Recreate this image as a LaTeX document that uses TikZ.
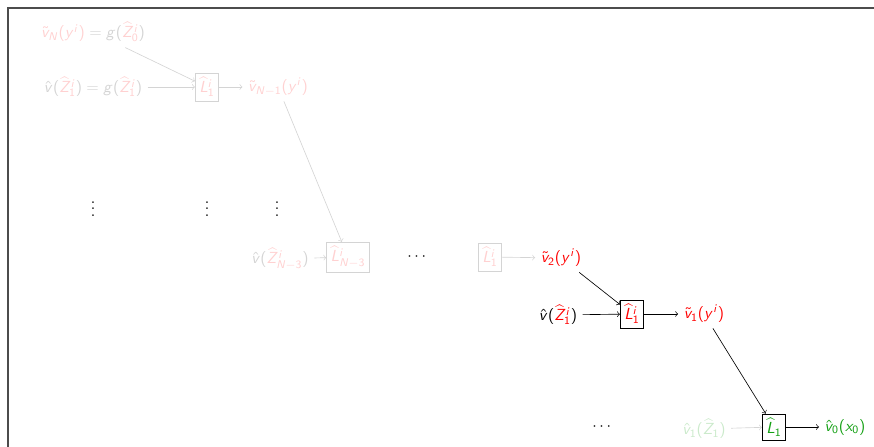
\documentclass[tikz,border=0pt]{standalone}
\usepackage{amsmath}
\usepackage{tikz}
\usetikzlibrary{positioning}

% sans serif math, as on the slide
\DeclareSymbolFont{operators}{OT1}{cmss}{m}{n}
\DeclareSymbolFont{sfletters}{OT1}{cmss}{m}{sl}
\DeclareMathSymbol{g}{\mathalpha}{sfletters}{`g}
\DeclareMathSymbol{i}{\mathalpha}{sfletters}{`i}
\DeclareMathSymbol{v}{\mathalpha}{sfletters}{`v}
\DeclareMathSymbol{x}{\mathalpha}{sfletters}{`x}
\DeclareMathSymbol{y}{\mathalpha}{sfletters}{`y}
\DeclareMathSymbol{L}{\mathalpha}{sfletters}{`L}
\DeclareMathSymbol{N}{\mathalpha}{sfletters}{`N}
\DeclareMathSymbol{Z}{\mathalpha}{sfletters}{`Z}

\colorlet{pale}{black!17}
\colorlet{palered}{red!18}
\definecolor{dkgreen}{RGB}{20,160,20}
\colorlet{palegreen}{dkgreen!22}
\newcommand{\pr}[1]{\textcolor{palered}{#1}}
\newcommand{\rd}[1]{\textcolor{red}{#1}}

\begin{document}
\begin{tikzpicture}[x=0.625pt, y=-0.625pt,
    lbox/.style={draw, inner sep=2.5pt},
    fade/.style={pale, text=palered},
    dim/.style={->, pale},
    flow/.style={->}]
    \useasboundingbox (0,0) rectangle (874,447);
    \draw[black!70, line width=0.8pt] (8,447) -- (8,8) -- (874,8);
    % faded top rows
    \node[pale] (vN) at (93,32) {$\pr{\tilde{v}_N(y^i)} = g(\pr{\widehat{Z}^i_0})$};
    \node[pale] (vh1) at (93,87) {$\hat{v}(\pr{\widehat{Z}^i_1}) = g(\pr{\widehat{Z}^i_1})$};
    \node[lbox,fade] (b1) at (207,87) {$\widehat{L}^i_1$};
    \node[palered] (vN1) at (278,87) {$\tilde{v}_{N-1}(y^i)$};
    \node at (93,204) {$\vdots$};
    \node at (207,204) {$\vdots$};
    \node at (277,204) {$\vdots$};
    \node[pale] (vhN3) at (280,259) {$\hat{v}(\pr{\widehat{Z}^i_{N-3}})$};
    \node[lbox,fade] (bN3) at (348,257) {$\widehat{L}^i_{N-3}$};
    \node (dots1) at (418,257) {$\cdots$};
    \node[lbox,fade] (bk) at (490,257) {$\widehat{L}^i_1$};
    \node[red] (v2) at (561,258) {$\tilde{v}_2(y^i)$};
    % current step
    \node (vh) at (558,315) {$\hat{v}(\rd{\widehat{Z}^i_1})$};
    \node[lbox,text=red] (bb) at (632,314) {$\widehat{L}^i_1$};
    \node[red] (v1) at (704,314) {$\tilde{v}_1(y^i)$};
    % last step
    \node (dots2) at (603,427) {$\cdots$};
    \node[palegreen] (vhz) at (704,429) {$\hat{v}_1(\widehat{Z}_1)$};
    \node[lbox,text=dkgreen] (bL) at (774,427) {$\widehat{L}_1$};
    \node[dkgreen] (v0) at (845,427) {$\hat{v}_0(x_0)$};
    \draw[dim] (vN) -- (b1);
    \draw[dim] (vh1) -- (b1);
    \draw[dim] (b1) -- (vN1);
    \draw[dim] (vN1) -- (bN3);
    \draw[dim] (vhN3) -- (bN3);
    \draw[dim] (bk) -- (v2);
    \draw[flow] (v2) -- (bb);
    \draw[flow] (vh) -- (bb);
    \draw[flow] (bb) -- (v1);
    \draw[flow] (v1) -- (bL);
    \draw[dim] (vhz) -- (bL);
    \draw[flow] (bL) -- (v0);
\end{tikzpicture}
\end{document}
